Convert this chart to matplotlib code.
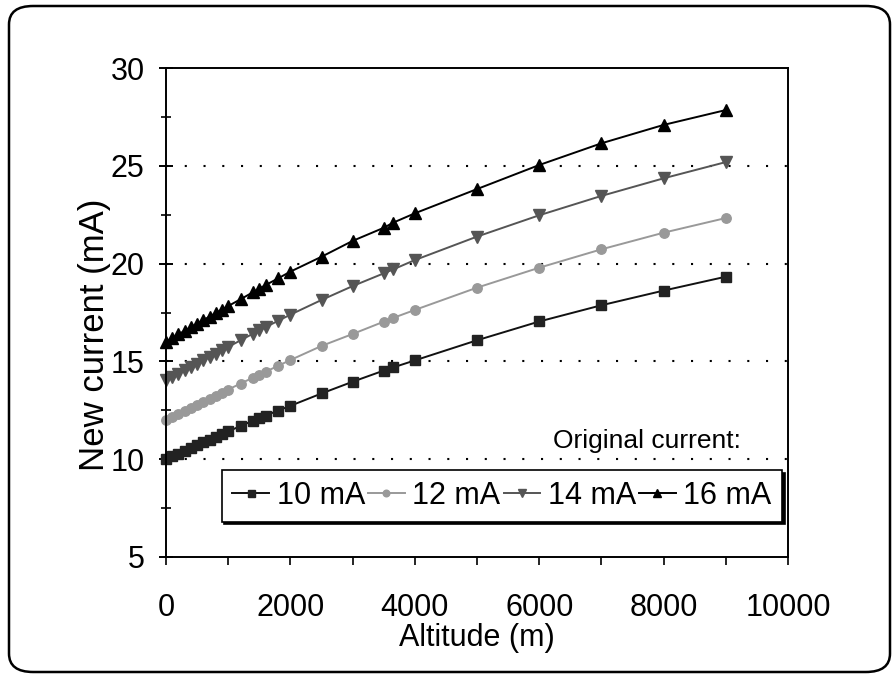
import matplotlib
matplotlib.use("Agg")
import matplotlib.pyplot as plt
from matplotlib.patches import FancyBboxPatch

plt.rcParams['font.family'] = ['Liberation Sans', 'DejaVu Sans']

altitude = [0, 100, 200, 300, 400, 500, 600, 700, 800, 900, 1000, 1200, 1400, 1500,
            1600, 1800, 2000, 2500, 3000, 3500, 3650, 4000, 5000, 6000, 7000, 8000, 9000]
cur10 = [10.00, 10.15, 10.29, 10.44, 10.58, 10.72, 10.86, 11.00, 11.14, 11.28, 11.42,
         11.70, 11.97, 12.10, 12.23, 12.48, 12.73, 13.36, 13.96, 14.53, 14.69, 15.05,
         16.08, 17.04, 17.87, 18.62, 19.33]
cur12 = [12.00, 12.16, 12.31, 12.47, 12.63, 12.78, 12.94, 13.10, 13.25, 13.41, 13.56,
         13.87, 14.17, 14.32, 14.47, 14.77, 15.07, 15.79, 16.40, 17.03, 17.22, 17.63,
         18.77, 19.79, 20.73, 21.58, 22.33]
cur14 = [14.03, 14.20, 14.37, 14.54, 14.71, 14.88, 15.05, 15.22, 15.39, 15.56, 15.74,
         16.08, 16.42, 16.58, 16.75, 17.07, 17.39, 18.14, 18.85, 19.50, 19.70, 20.18,
         21.38, 22.47, 23.46, 24.36, 25.19]
cur16 = [16.00, 16.19, 16.38, 16.57, 16.75, 16.93, 17.11, 17.29, 17.47, 17.65, 17.83,
         18.18, 18.54, 18.72, 18.90, 19.24, 19.59, 20.35, 21.16, 21.83, 22.09, 22.57,
         23.81, 25.04, 26.15, 27.09, 27.85]
labels = ['10 mA', '12 mA', '14 mA', '16 mA']

fig = plt.figure(figsize=(8.95, 6.8), dpi=100)
ax = fig.add_axes([166/895, 1 - 557/680, (788 - 166)/895, (557 - 68)/680])

# rounded outer border
border = FancyBboxPatch((9/895, 8/680), (890 - 9)/895, (674 - 8)/680,
                        boxstyle="round,pad=0,rounding_size=0.027",
                        transform=fig.transFigure, facecolor='none',
                        edgecolor='black', linewidth=1.8, zorder=0)
fig.patches.append(border)

styles = [
    dict(color='#111111', marker='s', ms=7.2, mfc='#222222', mec='#222222'),
    dict(color='#999999', marker='o', ms=6.8, mfc='#999999', mec='#999999'),
    dict(color='#555555', marker='v', ms=8.0, mfc='#555555', mec='#555555'),
    dict(color='#000000', marker='^', ms=8.0, mfc='#000000', mec='#000000'),
]
for ys, lab, st in zip([cur10, cur12, cur14, cur16], labels, styles):
    ax.plot(altitude, ys, lw=1.4, label=lab, clip_on=False, **st)

ax.set_xlim(0, 10000)
ax.set_ylim(5, 30)
ax.set_xticks(range(0, 10001, 2000))
ax.set_xticks(range(1000, 10000, 2000), minor=True)
ax.set_yticks(range(5, 31, 5))
ax.set_yticks([7.5, 12.5, 17.5, 22.5, 27.5], minor=True)

for gy in [10, 15, 20, 25]:
    ax.axhline(gy, color='black', lw=1.5, linestyle=(0, (1, 8)), zorder=0.5)

for sp in ax.spines.values():
    sp.set_linewidth(1.4)
    sp.set_color('black')

ax.tick_params(axis='y', which='major', direction='inout', length=10, width=1.4,
               labelsize=22, pad=10.5)
ax.tick_params(axis='y', which='minor', direction='inout', length=7, width=1.2)
ax.tick_params(axis='x', which='both', direction='out', length=6, width=1.2,
               labelsize=22, pad=20)

ax.set_xlabel('Altitude (m)', fontsize=22, labelpad=0)
ax.set_ylabel('New current (mA)', fontsize=25)
ax.yaxis.set_label_coords(-0.088, 0.455)

leg = fig.legend(loc='center', bbox_to_anchor=(502/895, 1 - 496/680),
                 bbox_transform=fig.transFigure, ncol=4, fontsize=22,
                 frameon=True, fancybox=False, edgecolor='black', framealpha=1,
                 shadow={'color': 'black', 'alpha': 1}, handlelength=1.2,
                 handletextpad=0.25, columnspacing=0.1, borderpad=0.35,
                 borderaxespad=0, markerscale=0.7)
leg.get_frame().set_linewidth(1.2)

fig.text(741/895, 1 - 441/680, 'Original current:', fontsize=19,
         ha='right', va='center')

fig.savefig('out.png', dpi=100)
